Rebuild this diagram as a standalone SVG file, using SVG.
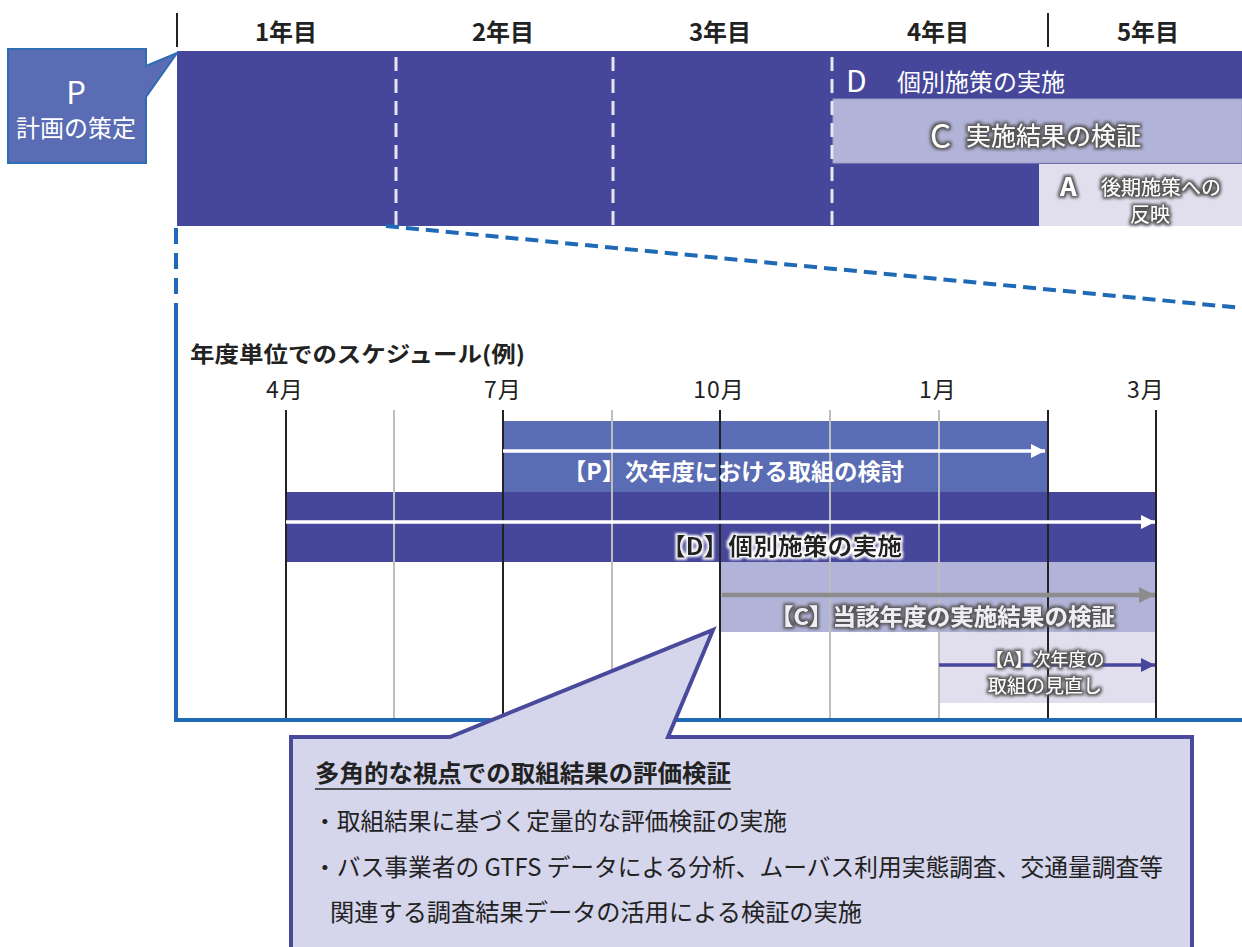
<svg xmlns="http://www.w3.org/2000/svg" width="1242" height="947" viewBox="0 0 1242 947">
<defs>
<style>
.t{font-family:"Noto Sans CJK JP","Noto Sans",sans-serif;}
.yr{font-size:24px;font-weight:bold;fill:#222;text-anchor:middle;}
.mo{font-size:23px;fill:#222;text-anchor:middle;letter-spacing:1px;}
.wh{fill:#fff;}
.blk{stroke:#222;stroke-width:2;}
.gry{stroke:#bdbdbd;stroke-width:2;}
.wd{stroke:#e6e6f2;stroke-width:3;stroke-dasharray:14,8;}
.blue{stroke:#1f6ab7;fill:none;}
.cb{font-size:24px;fill:#222;}
</style>
<filter id="glowDark" x="-10%" y="-30%" width="120%" height="160%">
<feMorphology in="SourceAlpha" operator="dilate" radius="1.5" result="d"/>
<feGaussianBlur in="d" stdDeviation="1.5" result="b"/>
<feFlood flood-color="#555"/>
<feComposite in2="b" operator="in" result="g"/>
<feMerge><feMergeNode in="g"/><feMergeNode in="SourceGraphic"/></feMerge>
</filter>
<filter id="glowWhite" x="-10%" y="-30%" width="120%" height="160%">
<feMorphology in="SourceAlpha" operator="dilate" radius="1.5" result="d"/>
<feGaussianBlur in="d" stdDeviation="1.2" result="b"/>
<feFlood flood-color="#fff"/>
<feComposite in2="b" operator="in" result="g"/>
<feMerge><feMergeNode in="g"/><feMergeNode in="SourceGraphic"/></feMerge>
</filter>
<marker id="arW" viewBox="0 0 10 10" refX="10" refY="5" markerWidth="4" markerHeight="4" orient="auto" markerUnits="strokeWidth"><path d="M0,0 L10,5 L0,10 z" fill="#fff"/></marker>
<marker id="arG" viewBox="0 0 10 10" refX="10" refY="5" markerWidth="3.6" markerHeight="3.6" orient="auto" markerUnits="strokeWidth"><path d="M0,0 L10,5 L0,10 z" fill="#8c8c8c"/></marker>
<marker id="arD" viewBox="0 0 10 10" refX="10" refY="5" markerWidth="4" markerHeight="4" orient="auto" markerUnits="strokeWidth"><path d="M0,0 L10,5 L0,10 z" fill="#46479a"/></marker>
</defs>
<rect width="1242" height="947" fill="#fff"/>

<!-- top timeline -->
<g id="years">
<line x1="177" y1="13" x2="177" y2="47" class="blk"/>
<line x1="1048" y1="13" x2="1048" y2="47" class="blk"/>
<text class="t yr" x="286" y="41">1年目</text>
<text class="t yr" x="503" y="41">2年目</text>
<text class="t yr" x="720" y="41">3年目</text>
<text class="t yr" x="938" y="41">4年目</text>
<text class="t yr" x="1148" y="41">5年目</text>
</g>

<g id="plan-bar">
<rect x="177" y="51" width="1065" height="175" fill="#46479a"/>
<line x1="396" y1="57" x2="396" y2="226" class="wd"/>
<line x1="613" y1="57" x2="613" y2="226" class="wd"/>
</g>
<g id="top-C">
<rect x="833" y="99" width="409" height="64" fill="#b2b3d8" stroke="#9d9ec6" stroke-width="1"/>
<g filter="url(#glowDark)">
<text class="t wh" x="930" y="148" font-size="33">C</text>
<text class="t wh" x="966" y="145" font-size="25">実施結果の検証</text>
</g>
</g>
<g id="top-A">
<rect x="1039" y="164" width="203" height="62" fill="#e1deee"/>
<g filter="url(#glowDark)">
<text class="t wh" x="1060" y="196" font-size="26" font-weight="bold">A</text>
<text class="t wh" x="1101" y="195" font-size="20">後期施策への</text>
<text class="t wh" x="1150" y="222" font-size="20" text-anchor="middle">反映</text>
</g>
</g>
<g id="top-D">
<line x1="832" y1="57" x2="832" y2="226" class="wd"/>
<text class="t wh" x="846" y="92" font-size="30">D</text>
<text class="t wh" x="897" y="91" font-size="24">個別施策の実施</text>
</g>

<g id="P-callout">
<path d="M8,49 H146 V66 L177,53 L146,97 V163 H8 Z" fill="#5a6cb3" stroke="#2e6db4" stroke-width="2"/>
<text class="t wh" x="76" y="104" font-size="31" text-anchor="middle">P</text>
<text class="t wh" x="76" y="137" font-size="24" text-anchor="middle">計画の策定</text>
</g>

<!-- zoom lines -->
<g id="connectors">
<line x1="176" y1="228" x2="176" y2="310" class="blue" stroke-width="4" stroke-dasharray="16,9"/>
<line x1="176" y1="310" x2="176" y2="722" class="blue" stroke-width="4"/>
<line x1="386" y1="226" x2="1242" y2="308" class="blue" stroke-width="4" stroke-dasharray="13,7"/>
<line x1="174" y1="720" x2="1242" y2="720" class="blue" stroke-width="4"/>
</g>

<!-- schedule -->
<g id="schedule-title">
<text class="t" x="190" y="362" font-size="22" font-weight="bold" fill="#222" textLength="335" lengthAdjust="spacingAndGlyphs">年度単位でのスケジュール(例)</text>
<text class="t mo" x="285" y="398">4月</text>
<text class="t mo" x="503" y="398">7月</text>
<text class="t mo" x="719" y="398">10月</text>
<text class="t mo" x="938" y="398">1月</text>
<text class="t mo" x="1146" y="398">3月</text>
</g>

<g id="bar-P">
<rect x="503" y="421" width="545" height="71" fill="#5a6cb3"/>
</g>
<g id="bar-D">
<rect x="286" y="492" width="870" height="70" fill="#46479a"/>
</g>
<g id="bar-C">
<rect x="720" y="562" width="436" height="70" fill="#b2b3d8"/>
</g>
<g id="bar-A">
<rect x="939" y="632" width="217" height="71" fill="#e1deee"/>
</g>

<g id="grid">
<line x1="394" y1="410" x2="394" y2="718" class="gry"/>
<line x1="612" y1="410" x2="612" y2="718" class="gry"/>
<line x1="830" y1="410" x2="830" y2="718" class="gry"/>
<line x1="939" y1="410" x2="939" y2="718" class="gry"/>
<line x1="286" y1="410" x2="286" y2="718" class="blk"/>
<line x1="503" y1="410" x2="503" y2="718" class="blk"/>
<line x1="720" y1="410" x2="720" y2="718" class="blk"/>
<line x1="1048" y1="410" x2="1048" y2="718" class="blk"/>
<line x1="1156" y1="410" x2="1156" y2="718" class="blk"/>
</g>

<g id="arrows">
<line x1="503" y1="451" x2="1045" y2="451" stroke="#fff" stroke-width="3.5" marker-end="url(#arW)"/>
<line x1="286" y1="522" x2="1155" y2="522" stroke="#fff" stroke-width="3.5" marker-end="url(#arW)"/>
<line x1="722" y1="595" x2="1155" y2="595" stroke="#8c8c8c" stroke-width="4.5" marker-end="url(#arG)"/>
<line x1="939" y1="665" x2="1155" y2="665" stroke="#46479a" stroke-width="3.5" marker-end="url(#arD)"/>
</g>

<g id="labels">
<text class="t wh" x="563" y="480" font-size="23" font-weight="bold" textLength="341" lengthAdjust="spacingAndGlyphs">【P】次年度における取組の検討</text>
<text class="t" x="661" y="555" font-size="24" font-weight="bold" fill="#222" filter="url(#glowWhite)" textLength="241" lengthAdjust="spacingAndGlyphs">【D】個別施策の実施</text>
<text class="t" x="770" y="625" font-size="23" font-weight="bold" fill="#eeeef4" filter="url(#glowDark)" textLength="345" lengthAdjust="spacingAndGlyphs">【C】当該年度の実施結果の検証</text>
<g filter="url(#glowDark)">
<text class="t wh" x="1045" y="666" font-size="18" text-anchor="middle">【A】次年度の</text>
<text class="t wh" x="1045" y="693" font-size="19" text-anchor="middle">取組の見直し</text>
</g>
</g>

<g id="eval-callout">
<path d="M291,737 H450 L713,630 L668,737 H1192 V950 H291 Z" fill="#d5d5ec" stroke="#4a4a9c" stroke-width="4"/>
<text class="t cb" x="315" y="782" font-weight="bold" textLength="416" lengthAdjust="spacingAndGlyphs">多角的な視点での取組結果の評価検証</text>
<line x1="315" y1="789" x2="731" y2="789" stroke="#222" stroke-width="1.5"/>
<text class="t cb" x="313" y="830" textLength="474" lengthAdjust="spacingAndGlyphs">・取組結果に基づく定量的な評価検証の実施</text>
<text class="t cb" x="313" y="876" textLength="850" lengthAdjust="spacingAndGlyphs">・バス事業者の GTFS データによる分析、ムーバス利用実態調査、交通量調査等</text>
<text class="t cb" x="330" y="921" textLength="532" lengthAdjust="spacingAndGlyphs">関連する調査結果データの活用による検証の実施</text>
</g>
</svg>
